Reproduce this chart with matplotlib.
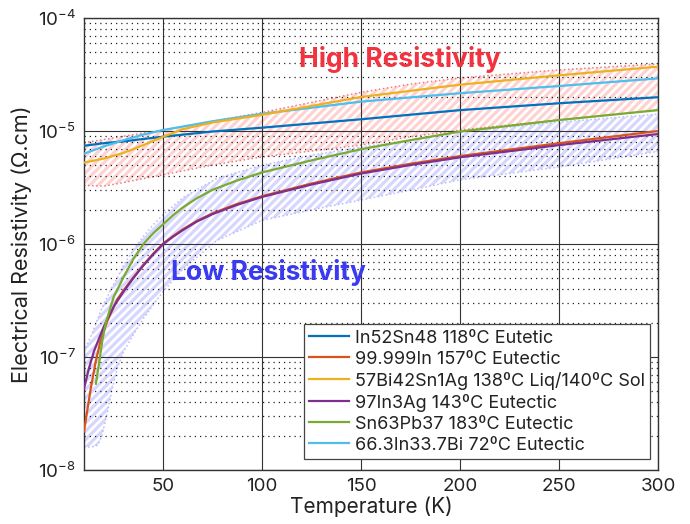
import numpy as np
import matplotlib
matplotlib.use("Agg")
import matplotlib.pyplot as plt

plt.rcParams['font.family'] = ['Inter', 'DejaVu Sans']
plt.rcParams['mathtext.fontset'] = 'custom'
plt.rcParams['mathtext.rm'] = 'Inter'
plt.rcParams['mathtext.it'] = 'Inter'
plt.rcParams['hatch.linewidth'] = 2.3

# ---------------- data ----------------
labels = ["In52Sn48 118ºC Eutetic",
          "99.999In 157ºC Eutectic",
          "57Bi42Sn1Ag 138ºC Liq/140ºC Sol",
          "97In3Ag 143ºC Eutectic",
          "Sn63Pb37 183ºC Eutectic",
          "66.3In33.7Bi 72ºC Eutectic"]
colors = ["#0072BD", "#D95319", "#EDB120", "#7E2F8E", "#77AC30", "#4DBEEE"]

t_insn = [10, 20, 30, 40, 50, 75, 100, 150, 200, 250, 300]
r_insn = [7.4e-6, 7.8e-6, 8.1e-6, 8.5e-6, 8.9e-6, 9.9e-6, 1.07e-5, 1.27e-5, 1.53e-5, 1.76e-5, 1.99e-5]

t_in = [10, 11.7, 13.4, 15.9, 18.4, 21.8, 26.8, 30, 35, 40, 45, 50, 55, 60, 67, 75, 87,
        100, 125, 150, 175, 200, 250, 300]
r_in = [2.2e-8, 3.4e-8, 5.25e-8, 9.1e-8, 1.40e-7, 2.09e-7, 3.24e-7, 3.89e-7, 5.07e-7, 6.53e-7,
        8.22e-7, 1.01e-6, 1.175e-6, 1.35e-6, 1.60e-6, 1.87e-6, 2.25e-6, 2.65e-6, 3.43e-6,
        4.3e-6, 5.13e-6, 6.0e-6, 7.8e-6, 1.0e-5]

t_bisn = [10, 20, 30, 40, 50, 60, 75, 100, 150, 200, 250, 300]
r_bisn = [5.25e-6, 5.7e-6, 6.4e-6, 7.5e-6, 8.9e-6, 1.04e-5, 1.19e-5, 1.39e-5, 2.0e-5, 2.57e-5, 3.11e-5, 3.71e-5]

t_inag = [10, 12.5, 15, 20, 25, 30, 35, 40, 45, 50, 55, 60, 67, 75, 87, 100, 125, 150, 175, 200, 250, 300]
r_inag = [5.25e-8, 7.94e-8, 1.12e-7, 1.86e-7, 2.79e-7, 3.80e-7, 5.01e-7, 6.46e-7, 8.13e-7, 1.0e-6,
          1.16e-6, 1.33e-6, 1.58e-6, 1.84e-6, 2.21e-6, 2.61e-6, 3.36e-6, 4.2e-6, 5.0e-6, 5.85e-6,
          7.5e-6, 9.4e-6]

t_snpb = [16, 17.6, 19.3, 21, 25, 30, 35, 40, 45, 50, 55, 60, 67, 75, 87, 100, 125, 150, 175, 200, 250, 300]
r_snpb = [5.8e-8, 8.8e-8, 1.41e-7, 2.0e-7, 3.4e-7, 5.1e-7, 7.4e-7, 1.0e-6, 1.245e-6, 1.496e-6,
          1.80e-6, 2.11e-6, 2.54e-6, 3.02e-6, 3.63e-6, 4.3e-6, 5.5e-6, 6.9e-6, 8.3e-6, 9.9e-6,
          1.25e-5, 1.53e-5]

t_inbi = [10, 20, 30, 40, 50, 75, 100, 150, 200, 250, 300]
r_inbi = [6.3e-6, 7.3e-6, 8.3e-6, 9.3e-6, 1.02e-5, 1.22e-5, 1.42e-5, 1.82e-5, 2.16e-5, 2.5e-5, 2.92e-5]

# High-resistivity band
t_high = [10, 20, 30, 50, 75, 100, 150, 175, 200, 250, 300]
r_high_upper = [7.9e-6, 8.4e-6, 9.0e-6, 1.02e-5, 1.22e-5, 1.46e-5, 2.2e-5, 2.6e-5, 2.95e-5, 3.47e-5, 3.92e-5]
r_high_lower = [3.3e-6, 3.25e-6, 3.5e-6, 4.1e-6, 5.0e-6, 5.9e-6, 7.5e-6, 8.9e-6, 1.02e-5, 1.25e-5, 1.53e-5]

# Low-resistivity band
t_low = [10, 14, 17, 19, 21.8, 24, 26.8, 30, 35, 40, 45, 50, 60, 77, 100, 127, 150, 175, 200, 250, 300]
r_low_upper = [1.12e-7, 1.6e-7, 2.2e-7, 2.7e-7, 3.4e-7, 4.1e-7, 5.0e-7, 6.5e-7, 8.9e-7, 1.17e-6,
               1.48e-6, 1.82e-6, 2.57e-6, 3.8e-6, 5.0e-6, 6.2e-6, 7.2e-6, 8.3e-6, 9.8e-6,
               1.2e-5, 1.41e-5]
r_low_lower = [1.6e-8, 1.6e-8, 1.66e-8, 2.0e-8, 3.2e-8, 5.0e-8, 7.9e-8, 1.12e-7, 1.58e-7, 2.19e-7,
               2.9e-7, 3.8e-7, 6.0e-7, 1.07e-6, 1.62e-6, 2.04e-6, 2.45e-6, 3.0e-6, 3.7e-6,
               4.8e-6, 6.6e-6]

xticks = [50, 100, 150, 200, 250, 300]

# ---------------- figure ----------------
fig = plt.figure(figsize=(6.9, 5.24), dpi=100)
ax = fig.add_axes([84/690, 54/524, 574/690, 452/524])
ax.set_yscale('log')
ax.set_xlim(10, 300)
ax.set_ylim(1e-8, 1e-4)

# bands
ax.fill_between(t_high, r_high_lower, r_high_upper, facecolor='none',
                edgecolor='#FFD2D2', linewidth=0, hatch='////', zorder=0.3)
ax.plot(t_high, r_high_upper, ':', color='#F07A80', lw=1.1, zorder=0.4)
ax.plot(t_high, r_high_lower, ':', color='#F07A80', lw=1.1, zorder=0.4)

ax.fill_between(t_low, r_low_lower, r_low_upper, facecolor='none',
                edgecolor='#D6D6FF', linewidth=0, hatch='////', zorder=0.3)
ax.plot(t_low, r_low_upper, ':', color='#BCBCF8', lw=1.1, zorder=0.4)
ax.plot(t_low, r_low_lower, ':', color='#BCBCF8', lw=1.1, zorder=0.4)

# grid
ax.grid(True, which='major', color='#333333', linestyle='-', linewidth=0.8, zorder=1)
ax.yaxis.grid(True, which='minor', color='#222222', linestyle=(0, (1, 3.2)), linewidth=0.9)
ax.xaxis.grid(False, which='minor')

series = [(t_insn, r_insn), (t_in, r_in), (t_bisn, r_bisn),
          (t_inag, r_inag), (t_snpb, r_snpb), (t_inbi, r_inbi)]
handles = [None]*6
for i in [1, 3, 4, 0, 5, 2]:
    t, r = series[i]
    h, = ax.plot(t, r, color=colors[i], lw=1.6, label=labels[i], zorder=3)
    handles[i] = h

ax.text(169.6, 4.3e-5, "High Resistivity", color='#F2323E', fontsize=19,
        fontweight='bold', ha='center', va='center', zorder=4)
ax.text(103.4, 5.6e-7, "Low Resistivity", color='#3A3AF2', fontsize=19,
        fontweight='bold', ha='center', va='center', zorder=4)

ax.set_xticks(xticks)
ax.set_xticklabels([str(x) for x in xticks])
ax.tick_params(axis='both', which='both', direction='in', length=0, labelsize=13.5,
               labelcolor='#222222', pad=6)
for s in ax.spines.values():
    s.set_color('#333333')
    s.set_linewidth(1.0)

ax.set_xlabel("Temperature (K)", fontsize=15, color='#222222', labelpad=1)
ax.set_ylabel("Electrical Resistivity (Ω.cm)", fontsize=15.5, color='#222222', labelpad=4)

leg = ax.legend(handles=handles, loc='lower right',
                bbox_to_anchor=(650/690, 65/524), bbox_transform=fig.transFigure,
                borderaxespad=0, fontsize=13, frameon=True, fancybox=False,
                handlelength=2.2, handletextpad=0.3, labelspacing=0.22,
                borderpad=0.3, framealpha=1)
leg.get_frame().set_edgecolor('#444444')
leg.get_frame().set_linewidth(0.9)
for txt in leg.get_texts():
    txt.set_color('#222222')

fig.savefig("out.png", dpi=100)
